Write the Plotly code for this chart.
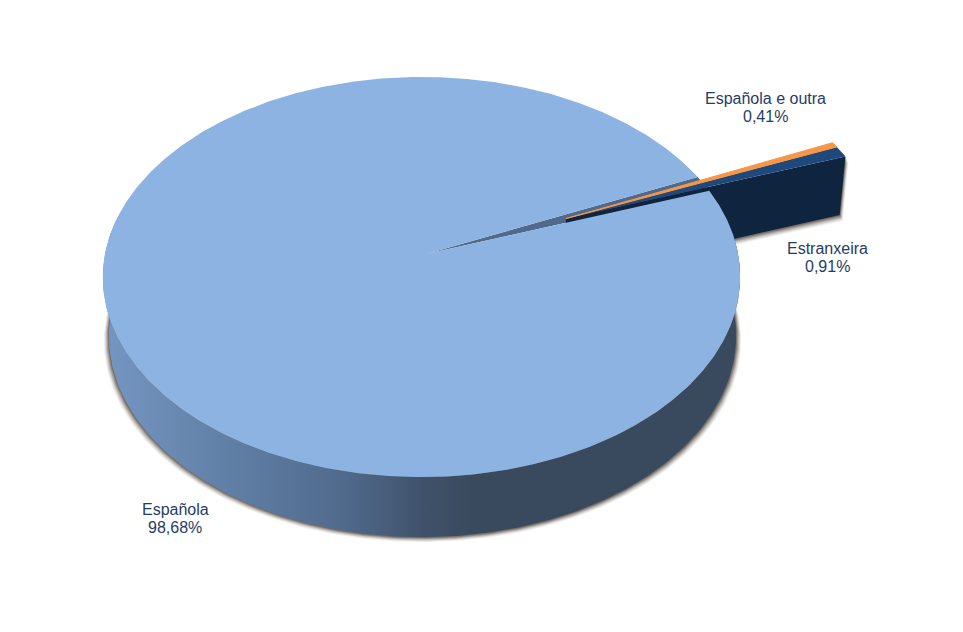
import numpy as np
import plotly.graph_objects as go

# Data
categories = ["Española", "Estranxeira", "Española e outra"]
values = [98.68, 0.91, 0.41]

# Style / view
C_TOP = "#8DB3E2"
C_GAP = "#4F6A8C"
C_NAVY = "#1F497D"
C_NAVY_WALL = "#0F243E"
C_ORANGE = "#F79646"
C_TEXT = "#1F3D68"
START_DEG = 19.7
EXPLODE = 0.49
EXPLODED_RADIUS = 1.04
APEX = (426.0, 254.0)
R, H, K, J = 316.5, 197.4, 0.115, 0.014
BOTTOM = (427.0, 313.0, 0.984, 1.005)
LABEL_POS = [(175, 518), (827, 257), (765, 107)]
LINE_GAP = 9


def project(u, v, bottom=False):
    w = 1 + K * v + J * u
    dx = R * u / w
    dy = -H * v / w
    if bottom:
        return BOTTOM[0] + BOTTOM[2] * dx, BOTTOM[1] + BOTTOM[3] * dy
    return APEX[0] + dx, APEX[1] + dy


def rim(t0, t1, off=(0, 0), bottom=False, n=240, r=1.0):
    t = np.radians(np.linspace(t0, t1, n))
    return project(r * np.cos(t) + off[0], r * np.sin(t) + off[1], bottom)


def poly(x, y, color=None, **kw):
    d = dict(x=np.asarray(x), y=np.asarray(y), mode="lines", fill="toself",
             line=dict(width=0), hoverinfo="skip", showlegend=False)
    if color:
        d["fillcolor"] = color
    d.update(kw)
    return go.Scatter(**d)


# slice angles from the values (counter-clockwise)
deg = [v / sum(values) * 360 for v in values]
a_nav0 = START_DEG
a_nav1 = a_nav0 + deg[1]
a_org1 = a_nav1 + deg[2]
a_esp0, a_esp1 = a_org1, a_org1 + deg[0]

m = np.radians((a_nav0 + a_org1) / 2)
off = (EXPLODE * np.cos(m), EXPLODE * np.sin(m))
rr = EXPLODED_RADIUS
ca, sa = rr * np.cos(np.radians(a_nav0)), rr * np.sin(np.radians(a_nav0))

fig = go.Figure()

# soft shadows under the walls
for ex, sh in [(6.0, 0.07), (5.0, 0.10), (4.0, 0.14), (3.0, 0.2), (2.0, 0.28), (1.0, 0.36)]:
    bx, by = rim(170, 370, bottom=True)
    cx = BOTTOM[0]
    sx = cx + (bx - cx) * (1 + ex / 330 * 0.9)
    sy = by + ex * 0.8
    fig.add_trace(poly(sx, sy, f"rgba(70,60,50,{sh})"))
    p0 = project(ca + off[0], sa + off[1], True)
    p1 = project(off[0], off[1], True)
    p2 = project(ca + off[0], sa + off[1], False)
    fig.add_trace(poly([p1[0], p0[0] + ex * 0.5, p2[0] + ex * 0.5, p1[0]],
                       [p1[1] + ex, p0[1] + ex, p2[1] + ex, p1[1] + ex],
                       f"rgba(70,60,50,{sh})"))

# Española side wall with horizontal gradient
tx, ty = rim(170, 372)
bx, by = rim(170, 372, bottom=True)
fig.add_trace(go.Scatter(
    x=np.r_[tx, bx[::-1]], y=np.r_[ty, by[::-1]], mode="lines", fill="toself",
    line=dict(width=0), hoverinfo="skip", showlegend=False,
    fillgradient=dict(type="horizontal", start=104, stop=740, colorscale=[
        [0.0, "#7596C2"], [0.2, "#607FA5"], [0.38, "#506A8C"],
        [0.5, "#40526B"], [0.58, "#3A4A5E"], [1.0, "#3A4A5E"]]),
))

# gap: the far cut face of the Española slice
g1 = rim(a_esp0, a_esp0, n=1)
g0 = rim(a_nav0, a_nav0, n=1)
fig.add_trace(poly([APEX[0], g1[0][0], g0[0][0], APEX[0]],
                   [APEX[1], g1[1][0], g0[1][0], APEX[1]], C_GAP))

# Estranxeira front cut face
w_pts = [project(off[0], off[1]), project(ca + off[0], sa + off[1]),
         project(ca + off[0], sa + off[1], True), project(off[0], off[1], True)]
fig.add_trace(poly([p[0] for p in w_pts] + [w_pts[0][0]],
                   [p[1] for p in w_pts] + [w_pts[0][1]], C_NAVY_WALL))

# Española top surface
ex, ey = rim(a_esp0, a_esp1, n=720)
fig.add_trace(poly(np.r_[APEX[0], ex, APEX[0]], np.r_[APEX[1], ey, APEX[1]], C_TOP))

# Estranxeira top surface
nx, ny = rim(a_nav0, a_nav1, off, n=12, r=rr)
na = project(*off)
fig.add_trace(poly(np.r_[na[0], nx, na[0]], np.r_[na[1], ny, na[1]], C_NAVY))

# Española e outra top surface
ox, oy = rim(a_nav1, a_org1, off, n=8, r=rr)
fig.add_trace(poly(np.r_[na[0], ox, na[0]], np.r_[na[1], oy, na[1]], C_ORANGE,
                   line=dict(width=1, color=C_ORANGE)))

for cat, val, (lx, ly) in zip(categories, values, LABEL_POS):
    for txt, yy in ((cat, ly - LINE_GAP), (f"{val:.2f}%".replace(".", ","), ly + LINE_GAP)):
        fig.add_annotation(x=lx, y=yy, xref="x", yref="y", showarrow=False, text=txt,
                           font=dict(family="Liberation Sans, Arial, sans-serif", size=16, color=C_TEXT))

fig.update_layout(
    width=963, height=632, margin=dict(l=0, r=0, t=0, b=0),
    paper_bgcolor="white", plot_bgcolor="white", showlegend=False,
    xaxis=dict(range=[0, 963], visible=False, fixedrange=True),
    yaxis=dict(range=[632, 0], visible=False, fixedrange=True),
)
fig.write_html("out.html", config={"displayModeBar": False},
               post_script="document.body.style.margin='0';document.body.style.overflow='hidden';")
